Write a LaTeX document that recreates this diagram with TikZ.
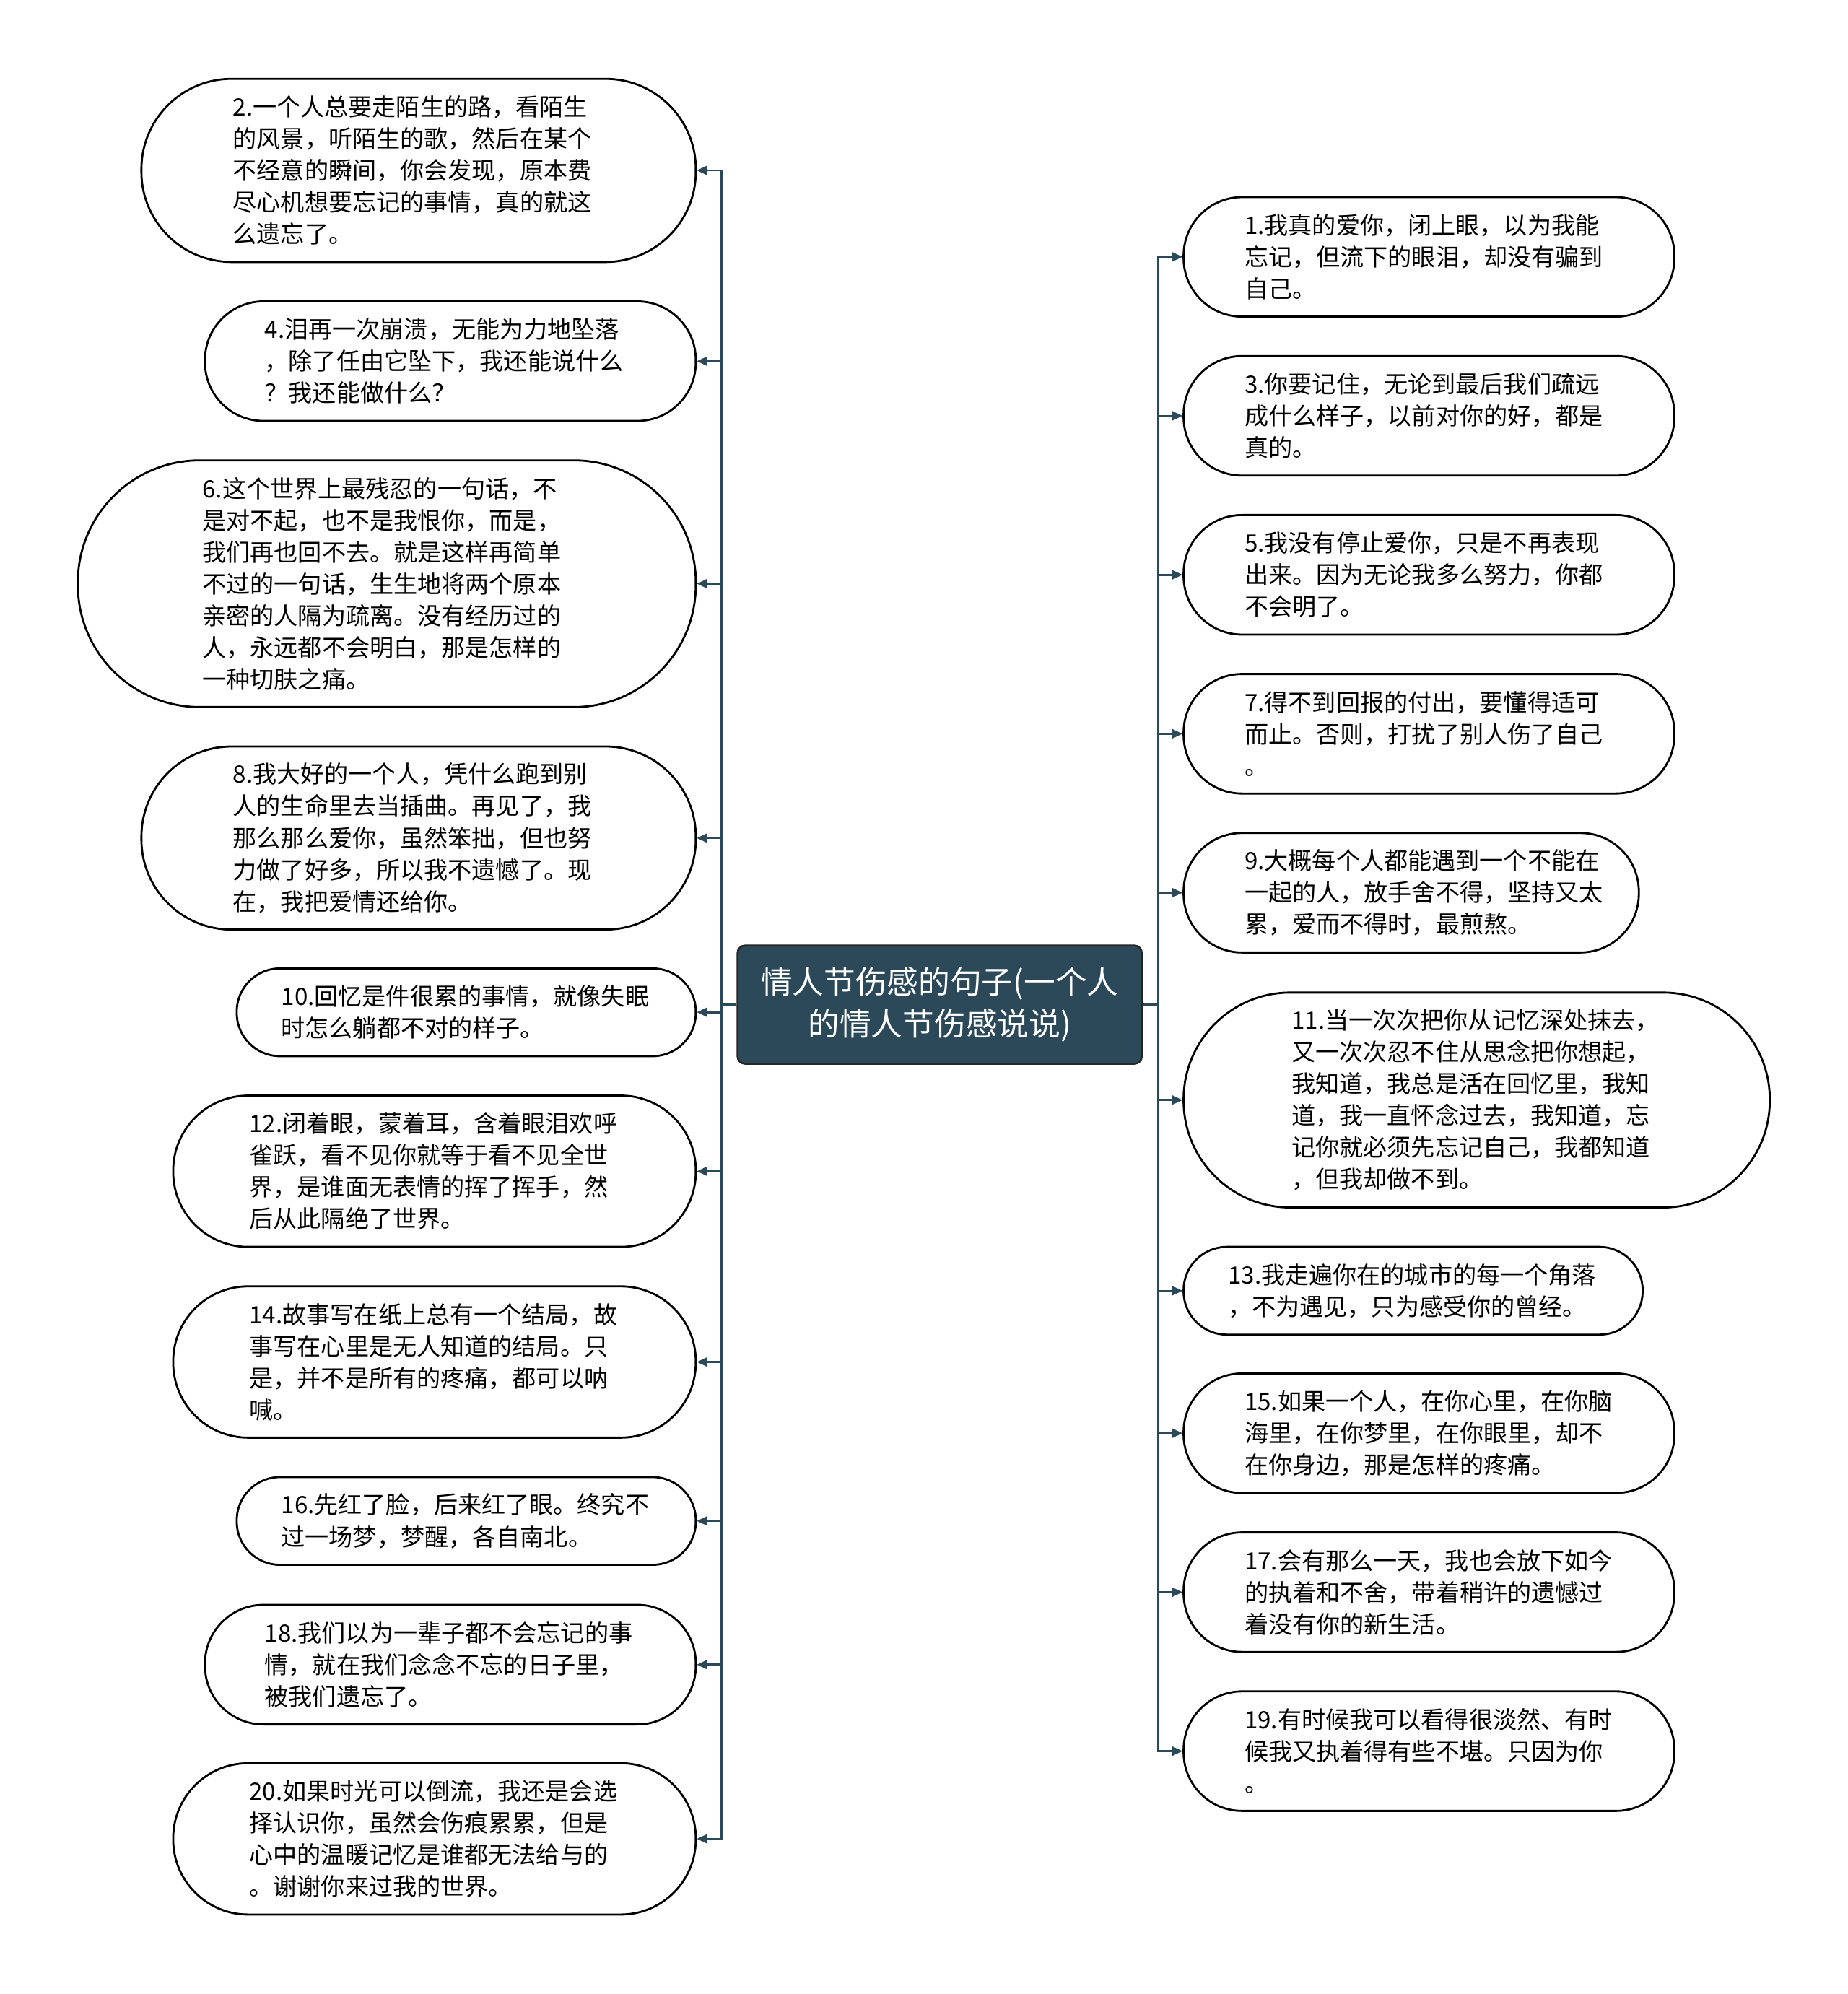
\documentclass[tikz,border=0pt]{standalone}
\usepackage{fontspec}
\setmainfont{Noto Sans CJK SC}
\usetikzlibrary{arrows.meta}
\definecolor{tealdk}{RGB}{43,73,89}
\begin{document}
\begin{tikzpicture}[x=1pt,y=-1pt,
  bub/.style={draw=black, line width=1.6pt, fill=white, inner sep=0pt, align=left,
    font=\fontsize{18.8pt}{25pt}\selectfont, text=black, text width=291pt},
  hub/.style={draw=black!85, line width=1.5pt, fill=tealdk, rounded corners=6pt, inner sep=0pt,
    align=center, text=white, font=\fontsize{24.8pt}{33pt}\selectfont,
    minimum width=318pt, minimum height=93pt},
  conn/.style={draw=tealdk, line width=1.6pt, -{Triangle[length=8pt,width=7pt]}}]
\useasboundingbox (0,0) rectangle (1453,1568);
\fill[white] (0,0) rectangle (1453,1568);

\node[hub] (c) at (739,790) {情人节伤感的句子(一个人\\的情人节伤感说说)};

% left column
\node[bub, anchor=east, minimum width=436pt, minimum height=144pt, rounded corners=71pt, text width=292pt] (n2) at (548,134)
 {2.一个人总要走陌生的路，看陌生\\的风景，听陌生的歌，然后在某个\\不经意的瞬间，你会发现，原本费\\尽心机想要忘记的事情，真的就这\\么遗忘了。};
\node[bub, anchor=east, minimum width=386pt, minimum height=94pt, rounded corners=46pt, text width=292pt] (n4) at (548,284)
 {4.泪再一次崩溃，无能为力地坠落\\，除了任由它坠下，我还能说什么\\？我还能做什么？};
\node[bub, anchor=east, minimum width=486pt, minimum height=194pt, rounded corners=96pt, text width=290pt] (n6) at (548,459)
 {6.这个世界上最残忍的一句话，不\\是对不起，也不是我恨你，而是，\\我们再也回不去。就是这样再简单\\不过的一句话，生生地将两个原本\\亲密的人隔为疏离。没有经历过的\\人，永远都不会明白，那是怎样的\\一种切肤之痛。};
\node[bub, anchor=east, minimum width=436pt, minimum height=144pt, rounded corners=71pt, text width=292pt] (n8) at (548,659)
 {8.我大好的一个人，凭什么跑到别\\人的生命里去当插曲。再见了，我\\那么那么爱你，虽然笨拙，但也努\\力做了好多，所以我不遗憾了。现\\在，我把爱情还给你。};
\node[bub, anchor=east, minimum width=361pt, minimum height=69pt, rounded corners=34pt] (n10) at (548,796)
 {10.回忆是件很累的事情，就像失眠\\时怎么躺都不对的样子。};
\node[bub, anchor=east, minimum width=411pt, minimum height=119pt, rounded corners=59pt] (n12) at (548,921)
 {12.闭着眼，蒙着耳，含着眼泪欢呼\\雀跃，看不见你就等于看不见全世\\界，是谁面无表情的挥了挥手，然\\后从此隔绝了世界。};
\node[bub, anchor=east, minimum width=411pt, minimum height=119pt, rounded corners=59pt] (n14) at (548,1071)
 {14.故事写在纸上总有一个结局，故\\事写在心里是无人知道的结局。只\\是，并不是所有的疼痛，都可以呐\\喊。};
\node[bub, anchor=east, minimum width=361pt, minimum height=69pt, rounded corners=34pt] (n16) at (548,1196)
 {16.先红了脸，后来红了眼。终究不\\过一场梦，梦醒，各自南北。};
\node[bub, anchor=east, minimum width=386pt, minimum height=94pt, rounded corners=46pt, text width=292pt] (n18) at (548,1309)
 {18.我们以为一辈子都不会忘记的事\\情，就在我们念念不忘的日子里，\\被我们遗忘了。};
\node[bub, anchor=east, minimum width=411pt, minimum height=119pt, rounded corners=59pt] (n20) at (548,1446)
 {20.如果时光可以倒流，我还是会选\\择认识你，虽然会伤痕累累，但是\\心中的温暖记忆是谁都无法给与的\\。谢谢你来过我的世界。};

% right column
\node[bub, anchor=west, minimum width=386pt, minimum height=94pt, rounded corners=46pt, text width=290pt] (n1) at (930,202)
 {1.我真的爱你，闭上眼，以为我能\\忘记，但流下的眼泪，却没有骗到\\自己。};
\node[bub, anchor=west, minimum width=386pt, minimum height=94pt, rounded corners=46pt, text width=290pt] (n3) at (930,327)
 {3.你要记住，无论到最后我们疏远\\成什么样子，以前对你的好，都是\\真的。};
\node[bub, anchor=west, minimum width=386pt, minimum height=94pt, rounded corners=46pt, text width=290pt] (n5) at (930,452)
 {5.我没有停止爱你，只是不再表现\\出来。因为无论我多么努力，你都\\不会明了。};
\node[bub, anchor=west, minimum width=386pt, minimum height=94pt, rounded corners=46pt, text width=290pt] (n7) at (930,577)
 {7.得不到回报的付出，要懂得适可\\而止。否则，打扰了别人伤了自己\\。};
\node[bub, anchor=west, minimum width=358pt, minimum height=94pt, rounded corners=46pt, text width=262pt] (n9) at (930,702)
 {9.大概每个人都能遇到一个不能在\\一起的人，放手舍不得，坚持又太\\累，爱而不得时，最煎熬。};
\node[bub, anchor=west, minimum width=461pt, minimum height=169pt, rounded corners=84pt] (n11) at (930,865)
 {11.当一次次把你从记忆深处抹去，\\又一次次忍不住从思念把你想起，\\我知道，我总是活在回忆里，我知\\道，我一直怀念过去，我知道，忘\\记你就必须先忘记自己，我都知道\\，但我却做不到。};
\node[bub, anchor=west, minimum width=361pt, minimum height=69pt, rounded corners=34pt] (n13) at (930,1015)
 {13.我走遍你在的城市的每一个角落\\，不为遇见，只为感受你的曾经。};
\node[bub, anchor=west, minimum width=386pt, minimum height=94pt, rounded corners=46pt, text width=290pt] (n15) at (930,1127)
 {15.如果一个人，在你心里，在你脑\\海里，在你梦里，在你眼里，却不\\在你身边，那是怎样的疼痛。};
\node[bub, anchor=west, minimum width=386pt, minimum height=94pt, rounded corners=46pt, text width=290pt] (n17) at (930,1252)
 {17.会有那么一天，我也会放下如今\\的执着和不舍，带着稍许的遗憾过\\着没有你的新生活。};
\node[bub, anchor=west, minimum width=386pt, minimum height=94pt, rounded corners=46pt, text width=290pt] (n19) at (930,1377)
 {19.有时候我可以看得很淡然、有时\\候我又执着得有些不堪。只因为你\\。};

% connectors
\foreach \n in {n2,n4,n6,n8,n10,n12,n14,n16,n18,n20}
  \draw[conn] (c.west) -- ++(-12,0) |- (\n.east);
\foreach \n in {n1,n3,n5,n7,n9,n11,n13,n15,n17,n19}
  \draw[conn] (c.east) -- ++(12,0) |- (\n.west);
\end{tikzpicture}
\end{document}
